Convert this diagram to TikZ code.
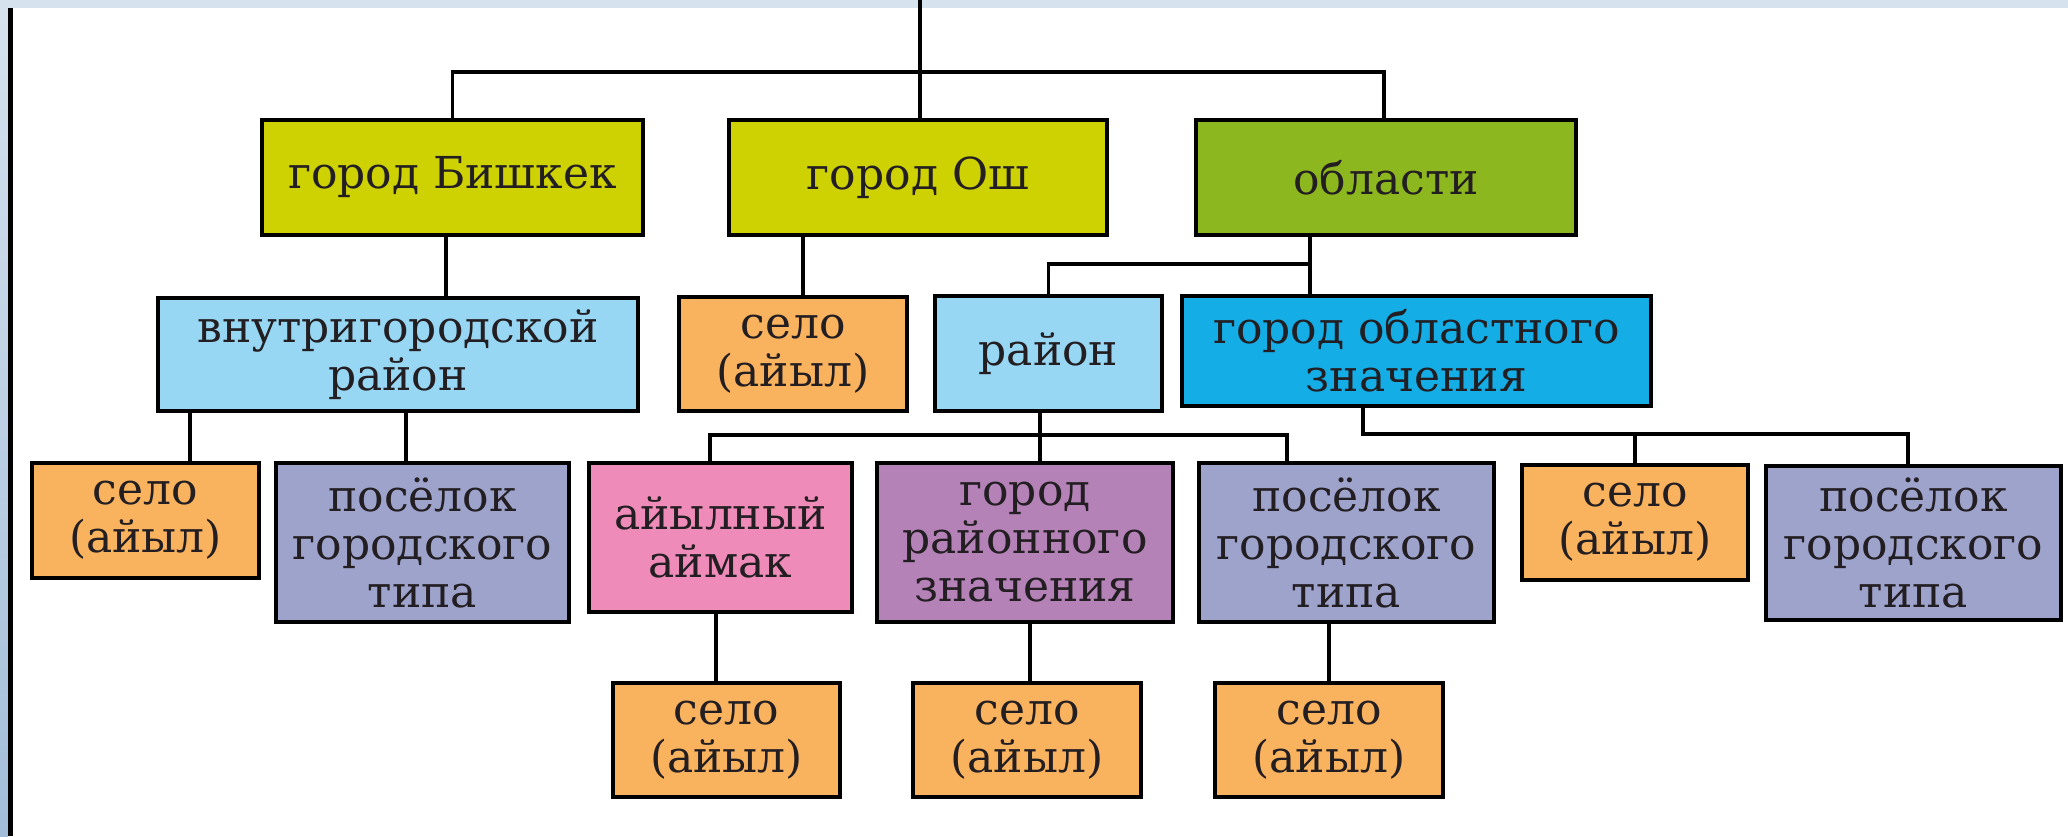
\documentclass[tikz,border=0pt]{standalone}
\usepackage{fontspec}
\setmainfont{DejaVu Serif}
\definecolor{cBand}{HTML}{D6E2EE}
\definecolor{cStrip}{HTML}{A3BDD9}
\definecolor{cYel}{HTML}{CED102}
\definecolor{cGreen}{HTML}{8DB71E}
\definecolor{cLBlue}{HTML}{97D7F3}
\definecolor{cBlue}{HTML}{14ADE6}
\definecolor{cOrange}{HTML}{F9B35E}
\definecolor{cLav}{HTML}{9EA3CC}
\definecolor{cPink}{HTML}{EE8BB8}
\definecolor{cPurp}{HTML}{B582B8}
\definecolor{cTxt}{HTML}{231E22}
\tikzset{
  box/.style={draw=black, line width=1.8pt, align=center, inner sep=0pt,
    text=cTxt, font=\fontsize{22}{24}\selectfont},
  conn/.style={draw=black, line width=1.6pt},
}
\begin{document}
\begin{tikzpicture}[x=0.5pt, y=-0.5pt]
\useasboundingbox (0,0) rectangle (2068,836);
\fill[white] (0,0) rectangle (2068,836);
\shade[top color=cBand, bottom color=cStrip] (0,0) rectangle (8,836);
\fill[cBand] (0,0) rectangle (2068,8);
\fill[black] (8,8) rectangle (13,836);

% level 1
\node[box, fill=cYel, minimum width=190.5pt, minimum height=57.5pt] (bish) at (452.5,177.5) {город Бишкек};
\node[box, fill=cYel, minimum width=189pt, minimum height=57.5pt] (osh) at (918,177.5) {город Ош};
\node[box, fill=cGreen, minimum width=190pt, minimum height=57.5pt] (obl) at (1386,177.5) {области};

% level 2
\node[box, fill=cLBlue, minimum width=240pt, minimum height=56.5pt] (vnutri) at (398,354.5) {внутригородской\\район};
\node[box, fill=cOrange, minimum width=114pt, minimum height=57pt] (seloOsh) at (793,354) {село\\(айыл)};
\node[box, fill=cLBlue, minimum width=113.5pt, minimum height=57.5pt] (rayon) at (1048.5,353.5) {район};
\node[box, fill=cBlue, minimum width=234.5pt, minimum height=55pt] (gorobl) at (1416.5,351) {город областного\\значения};

% level 3
\node[box, fill=cOrange, minimum width=113.5pt, minimum height=57.5pt] (selL) at (145.5,520.5) {село\\(айыл)};
\node[box, fill=cLav, minimum width=146.5pt, minimum height=79.5pt] (posL) at (422.5,542.5) {посёлок\\городского\\типа};
\node[box, fill=cPink, minimum width=131.5pt, minimum height=74.5pt] (ayil) at (720.5,537.5) {айылный\\аймак};
\node[box, fill=cPurp, minimum width=148pt, minimum height=79.5pt] (gorray) at (1025,542.5) {город\\районного\\значения};
\node[box, fill=cLav, minimum width=147.5pt, minimum height=79.5pt] (posM) at (1346.5,542.5) {посёлок\\городского\\типа};
\node[box, fill=cOrange, minimum width=113pt, minimum height=57.5pt] (selR) at (1635,522.5) {село\\(айыл)};
\node[box, fill=cLav, minimum width=147.5pt, minimum height=77pt] (posR) at (1913.5,543) {посёлок\\городского\\типа};

% level 4
\node[box, fill=cOrange, minimum width=113.5pt, minimum height=57pt] (selB1) at (726.5,740) {село\\(айыл)};
\node[box, fill=cOrange, minimum width=114pt, minimum height=57pt] (selB2) at (1027,740) {село\\(айыл)};
\node[box, fill=cOrange, minimum width=114pt, minimum height=57pt] (selB3) at (1329,740) {село\\(айыл)};

% connectors
\coordinate (topend) at (920,0);
\draw[conn] (topend) -- (osh.north -| topend);
\draw[conn] (bish.north) |- (1384,72) -- (obl.north -| 1384,0);
\draw[conn] (bish.south -| 446,0) -- (vnutri.north -| 446,0);
\draw[conn] (osh.south -| 803,0) -- (seloOsh.north -| 803,0);
\draw[conn] (obl.south -| 1310,0) -- (gorobl.north -| 1310,0);
\draw[conn] (rayon.north) |- (1310,264);
\draw[conn] (vnutri.south -| 190,0) -- (selL.north -| 190,0);
\draw[conn] (vnutri.south -| 406,0) -- (posL.north -| 406,0);
\draw[conn] (rayon.south -| 1040,0) -- (gorray.north -| 1040,0);
\draw[conn] (ayil.north -| 710,0) -- (710,435) -- (1287,435) -- (posM.north -| 1287,0);
\draw[conn] (gorobl.south -| 1363,0) -- (1363,434) -- (1908,434) -- (posR.north -| 1908,0);
\draw[conn] (selR.north) -- (selR.north |- 0,434);
\draw[conn] (ayil.south -| 716,0) -- (selB1.north -| 716,0);
\draw[conn] (gorray.south -| 1030,0) -- (selB2.north -| 1030,0);
\draw[conn] (posM.south -| selB3.north) -- (selB3.north);
\end{tikzpicture}
\end{document}
